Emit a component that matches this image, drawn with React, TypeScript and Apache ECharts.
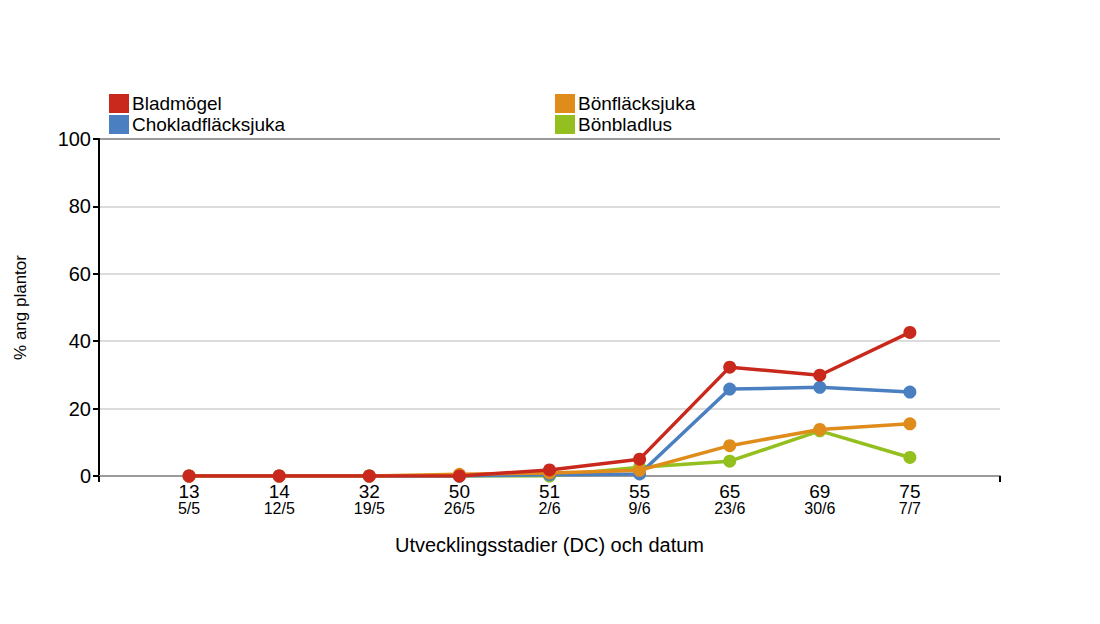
import React, { useEffect, useRef } from "react";
import * as echarts from "echarts";

const stages = ["13", "14", "32", "50", "51", "55", "65", "69", "75"];
const dates = ["5/5", "12/5", "19/5", "26/5", "2/6", "9/6", "23/6", "30/6", "7/7"];

const bladmogel = [0, 0, 0, 0, 1.8, 5.0, 32.3, 29.9, 42.6];
const chokladflacksjuka = [0, 0, 0, 0, 0.4, 0.6, 25.8, 26.3, 24.9];
const bonflacksjuka = [0, 0, 0, 0.5, 0.9, 1.7, 9.0, 13.8, 15.5];
const bonbladlus = [0, 0, 0, 0, 0, 2.6, 4.4, 13.4, 5.5];

const colors = {
  bladmogel: "#c9281c",
  choklad: "#4a7fc1",
  bonflack: "#e08c1b",
  bonbladlus: "#93c01f",
};

// pad the category axis with an empty slot at each end
const categories = ["", ...stages, ""];
const pad = (arr: number[]) => [null, ...arr, null];

export default function App() {
  const ref = useRef<HTMLDivElement>(null);

  useEffect(() => {
    if (!ref.current) return;
    const chart = echarts.init(ref.current, undefined, { renderer: "svg" });
    const font = "Liberation Sans, Arial, sans-serif";

    const mkSeries = (name: string, data: number[], color: string, z: number) => ({
      name,
      type: "line",
      data: pad(data),
      symbol: "circle",
      symbolSize: 13,
      z,
      itemStyle: { color },
      lineStyle: { color, width: 3.5 },
      connectNulls: false,
    });

    const legendCommon = {
      orient: "vertical",
      top: 89,
      itemWidth: 20,
      itemHeight: 19,
      itemGap: 2,
      icon: "rect",
      textStyle: { fontFamily: font, fontSize: 19, color: "#000", padding: [0, 0, 0, -2] },
    };

    chart.setOption({
      animation: false,
      textStyle: { fontFamily: font },
      legend: [
        { ...legendCommon, left: 104, data: ["Bladmögel", "Chokladfläcksjuka"] },
        { ...legendCommon, left: 550, data: ["Bönfläcksjuka", "Bönbladlus"] },
      ],
      grid: { left: 99, right: 100, top: 139, bottom: 148, containLabel: false },
      xAxis: {
        type: "category",
        data: categories,
        boundaryGap: false,
        name: "Utvecklingsstadier (DC) och datum",
        nameLocation: "middle",
        nameGap: 59,
        nameTextStyle: { fontFamily: font, fontSize: 20, color: "#000" },
        axisLine: { lineStyle: { color: "#9a9a9a", width: 2 } },
        axisTick: {
          interval: (i: number) => i === 0 || i === categories.length - 1,
          length: 6,
          lineStyle: { color: "#000", width: 2 },
        },
        axisLabel: {
          interval: 0,
          margin: 6,
          formatter: (v: string, i: number) =>
            v ? `{a|${v}}\n{b|${dates[i - 1]}}` : "",
          rich: {
            a: { fontFamily: font, fontSize: 19, color: "#000", lineHeight: 18 },
            b: { fontFamily: font, fontSize: 16, color: "#000", lineHeight: 16 },
          },
        },
        splitLine: { show: false },
      },
      yAxis: {
        type: "value",
        min: 0,
        max: 100,
        interval: 20,
        name: "% ang plantor",
        nameLocation: "middle",
        nameRotate: 90,
        nameGap: 70,
        nameTextStyle: { fontFamily: font, fontSize: 17, color: "#000" },
        axisLine: { show: true, lineStyle: { color: "#000", width: 2 } },
        axisTick: { show: true, length: 6, lineStyle: { color: "#000", width: 2 } },
        axisLabel: { fontFamily: font, fontSize: 20, color: "#000", margin: 8 },
        splitLine: {
          lineStyle: {
            color: ["#9a9a9a", "#dcdcdc", "#dcdcdc", "#dcdcdc", "#dcdcdc", "#9a9a9a"],
            width: 2,
          },
        },
      },
      series: [
        mkSeries("Bladmögel", bladmogel, colors.bladmogel, 5),
        mkSeries("Chokladfläcksjuka", chokladflacksjuka, colors.choklad, 3),
        mkSeries("Bönfläcksjuka", bonflacksjuka, colors.bonflack, 4),
        mkSeries("Bönbladlus", bonbladlus, colors.bonbladlus, 2),
      ],
    });

    return () => chart.dispose();
  }, []);

  return (
    <div
      ref={ref}
      style={{ position: "absolute", left: 0, top: 0, width: 1100, height: 624, background: "#fff" }}
    />
  );
}
